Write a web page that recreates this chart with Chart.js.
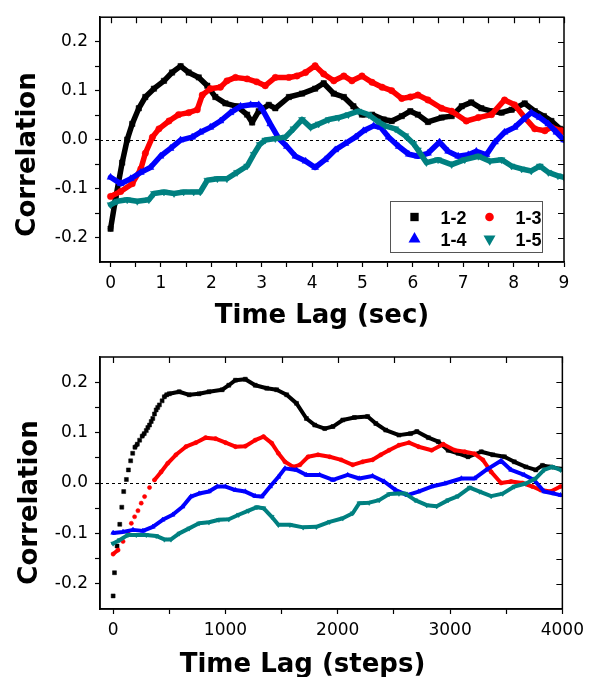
<!DOCTYPE html>
<html><head><meta charset="utf-8">
<script src="https://cdn.jsdelivr.net/npm/chart.js@4.4.1/dist/chart.umd.min.js"></script>
<style>
html,body{margin:0;padding:0;background:#fff;width:590px;height:677px;overflow:hidden}
#w1{position:absolute;left:0;top:0;width:590px;height:338px}
#w2{position:absolute;left:0;top:338px;width:590px;height:339px}
</style></head><body>
<div id="w1"><canvas id="c1" width="590" height="338"></canvas></div>
<div id="w2"><canvas id="c2" width="590" height="339"></canvas></div>
<script>
// ---- series identity ----
const seriesNames = ['1-2', '1-3', '1-4', '1-5'];
const seriesColors = ['#000000', '#ff0000', '#0000ff', '#008080'];
const seriesShapes = ['rect', 'circle', 'triangle', 'triangle'];
const seriesRotations = [0, 0, 0, 180];

// ---- top panel: time lag in seconds ----
const secX_12 = [0, 0.1, 0.23, 0.33, 0.43, 0.56, 0.69, 0.86, 1.06, 1.22, 1.39, 1.55, 1.75, 1.92, 2.08, 2.28, 2.51, 2.71, 2.81, 2.94, 3.14, 3.27, 3.54, 3.8, 4.06, 4.23, 4.43, 4.63, 4.82, 4.99, 5.19, 5.42, 5.58, 5.78, 5.95, 6.1, 6.3, 6.57, 6.77, 6.97, 7.16, 7.36, 7.56, 7.76, 7.96, 8.22, 8.42, 8.6, 8.75, 8.92, 9.0];
const secY_12 = [-0.182, -0.12, -0.047, 0.0, 0.032, 0.064, 0.087, 0.104, 0.12, 0.137, 0.15, 0.137, 0.127, 0.11, 0.087, 0.074, 0.068, 0.051, 0.035, 0.058, 0.071, 0.064, 0.087, 0.094, 0.104, 0.115, 0.094, 0.087, 0.068, 0.051, 0.051, 0.041, 0.038, 0.048, 0.058, 0.051, 0.036, 0.045, 0.048, 0.068, 0.076, 0.064, 0.058, 0.055, 0.061, 0.074, 0.058, 0.048, 0.038, 0.022, 0.02];

const secX_13 = [0, 0.2, 0.43, 0.6, 0.69, 0.83, 0.96, 1.16, 1.35, 1.55, 1.72, 1.82, 1.98, 2.18, 2.31, 2.48, 2.71, 2.9, 3.07, 3.27, 3.54, 3.7, 3.87, 4.06, 4.23, 4.43, 4.63, 4.79, 4.99, 5.19, 5.39, 5.58, 5.78, 5.95, 6.1, 6.3, 6.57, 6.77, 7.06, 7.3, 7.56, 7.82, 8.02, 8.22, 8.42, 8.62, 8.75, 8.95, 9.0];
const secY_13 = [-0.116, -0.106, -0.09, -0.06, -0.028, 0.005, 0.022, 0.038, 0.051, 0.055, 0.061, 0.091, 0.104, 0.107, 0.12, 0.127, 0.124, 0.118, 0.11, 0.127, 0.127, 0.13, 0.137, 0.151, 0.134, 0.12, 0.13, 0.12, 0.13, 0.117, 0.107, 0.1, 0.084, 0.087, 0.091, 0.081, 0.064, 0.058, 0.038, 0.045, 0.051, 0.081, 0.071, 0.045, 0.022, 0.018, 0.025, 0.018, 0.016];

const secX_14 = [0, 0.2, 0.4, 0.6, 0.79, 0.99, 1.19, 1.39, 1.62, 1.78, 1.98, 2.18, 2.38, 2.58, 2.78, 2.94, 3.0, 3.17, 3.34, 3.5, 3.67, 3.87, 4.06, 4.26, 4.46, 4.66, 4.86, 5.02, 5.22, 5.36, 5.52, 5.72, 5.92, 6.1, 6.3, 6.53, 6.7, 6.9, 7.1, 7.26, 7.46, 7.63, 7.82, 8.02, 8.19, 8.35, 8.52, 8.69, 8.85, 9.0];
const secY_14 = [-0.077, -0.09, -0.08, -0.067, -0.057, -0.034, -0.018, -0.001, 0.005, 0.015, 0.025, 0.038, 0.055, 0.068, 0.071, 0.071, 0.064, 0.032, 0.002, -0.014, -0.034, -0.044, -0.057, -0.041, -0.021, -0.008, 0.005, 0.018, 0.028, 0.025, 0.005, -0.014, -0.03, -0.034, -0.028, -0.005, -0.024, -0.034, -0.031, -0.024, -0.031, -0.005, 0.015, 0.025, 0.041, 0.055, 0.045, 0.032, 0.015, -0.001];

const secX_15 = [0, 0.13, 0.33, 0.53, 0.76, 0.86, 1.06, 1.26, 1.45, 1.65, 1.78, 1.92, 2.12, 2.31, 2.51, 2.71, 2.84, 2.96, 3.07, 3.27, 3.47, 3.63, 3.8, 3.97, 4.13, 4.33, 4.53, 4.72, 4.92, 5.12, 5.29, 5.45, 5.65, 5.85, 6.01, 6.1, 6.27, 6.5, 6.77, 7.03, 7.3, 7.53, 7.76, 7.96, 8.16, 8.35, 8.52, 8.69, 8.88, 9.0];
const secY_15 = [-0.133, -0.126, -0.123, -0.126, -0.123, -0.11, -0.107, -0.11, -0.107, -0.107, -0.107, -0.083, -0.08, -0.08, -0.067, -0.054, -0.03, -0.01, -0.001, 0.002, 0.005, 0.022, 0.041, 0.025, 0.032, 0.041, 0.045, 0.051, 0.058, 0.051, 0.038, 0.028, 0.022, 0.008, -0.008, -0.021, -0.047, -0.041, -0.051, -0.041, -0.034, -0.044, -0.041, -0.054, -0.06, -0.064, -0.054, -0.067, -0.074, -0.077];

// ---- bottom panel: time lag in steps ----
const stepX_12 = [0, 12, 35, 59, 77, 94, 118, 136, 156, 174, 194, 215, 236, 259, 277, 295, 309, 324, 339, 353, 368, 383, 397, 412, 436, 456, 477, 500, 588, 677, 765, 853, 971, 1030, 1089, 1177, 1265, 1368, 1456, 1545, 1633, 1721, 1795, 1884, 1957, 2045, 2148, 2266, 2339, 2427, 2545, 2648, 2704, 2807, 2895, 2983, 3071, 3160, 3278, 3380, 3484, 3572, 3675, 3763, 3822, 3896, 3984];
const stepY_12 = [-0.224, -0.178, -0.125, -0.082, -0.048, -0.017, 0.007, 0.026, 0.044, 0.059, 0.071, 0.077, 0.085, 0.093, 0.098, 0.104, 0.11, 0.115, 0.122, 0.128, 0.137, 0.145, 0.15, 0.155, 0.163, 0.171, 0.175, 0.177, 0.181, 0.175, 0.177, 0.181, 0.185, 0.194, 0.204, 0.206, 0.194, 0.188, 0.185, 0.175, 0.158, 0.128, 0.115, 0.108, 0.112, 0.125, 0.13, 0.132, 0.118, 0.105, 0.095, 0.098, 0.102, 0.09, 0.082, 0.065, 0.059, 0.052, 0.062, 0.056, 0.052, 0.042, 0.032, 0.026, 0.035, 0.032, 0.028];

const stepX_13 = [0, 44, 88, 132, 162, 191, 221, 250, 280, 324, 368, 427, 486, 559, 648, 736, 824, 912, 1001, 1089, 1177, 1265, 1339, 1412, 1471, 1530, 1604, 1663, 1736, 1824, 1928, 2030, 2133, 2221, 2310, 2383, 2457, 2545, 2634, 2719, 2836, 2939, 3042, 3131, 3219, 3292, 3366, 3454, 3543, 3645, 3733, 3807, 3896, 3984];
const stepY_13 = [-0.141, -0.133, -0.116, -0.097, -0.08, -0.067, -0.055, -0.04, -0.027, -0.009, 0.006, 0.022, 0.039, 0.056, 0.072, 0.08, 0.09, 0.088, 0.08, 0.072, 0.073, 0.085, 0.092, 0.079, 0.059, 0.042, 0.032, 0.036, 0.052, 0.056, 0.052, 0.046, 0.036, 0.042, 0.046, 0.056, 0.065, 0.075, 0.08, 0.072, 0.065, 0.077, 0.065, 0.062, 0.058, 0.046, 0.022, 0.0, 0.003, 0.0, -0.007, -0.014, -0.017, -0.007];

const stepX_14 = [0, 88, 177, 265, 353, 441, 530, 618, 692, 765, 853, 927, 1001, 1089, 1177, 1265, 1324, 1398, 1471, 1530, 1633, 1721, 1839, 1957, 2089, 2192, 2310, 2413, 2516, 2619, 2719, 2836, 2954, 3101, 3219, 3322, 3454, 3543, 3660, 3748, 3837, 3925, 3984];
const stepY_14 = [-0.099, -0.097, -0.093, -0.095, -0.087, -0.073, -0.063, -0.047, -0.027, -0.021, -0.017, -0.007, -0.007, -0.014, -0.017, -0.026, -0.027, -0.007, 0.012, 0.029, 0.026, 0.016, 0.016, 0.006, 0.016, 0.009, 0.014, 0.003, -0.014, -0.024, -0.017, -0.007, -0.001, 0.009, 0.009, 0.026, 0.044, 0.026, 0.016, 0.006, -0.017, -0.021, -0.024];

const stepX_15 = [0, 59, 132, 206, 295, 383, 456, 515, 589, 677, 765, 853, 942, 1030, 1118, 1206, 1280, 1339, 1412, 1471, 1574, 1692, 1809, 1928, 2045, 2133, 2192, 2280, 2369, 2457, 2545, 2601, 2689, 2792, 2881, 2983, 3071, 3175, 3263, 3366, 3469, 3572, 3675, 3763, 3837, 3910, 3984];
const stepY_15 = [-0.12, -0.113, -0.103, -0.103, -0.103, -0.105, -0.112, -0.112, -0.1, -0.09, -0.08, -0.078, -0.073, -0.072, -0.063, -0.055, -0.048, -0.05, -0.067, -0.083, -0.083, -0.088, -0.087, -0.077, -0.07, -0.06, -0.04, -0.039, -0.034, -0.022, -0.021, -0.021, -0.034, -0.044, -0.046, -0.034, -0.026, -0.009, -0.017, -0.026, -0.021, -0.007, -0.001, 0.009, 0.026, 0.032, 0.026];

// ---- ticks ----
const secTickValues = [0, 0.5, 1, 1.5, 2, 2.5, 3, 3.5, 4, 4.5, 5, 5.5, 6, 6.5, 7, 7.5, 8, 8.5, 9];
const secTickLabels = ['0', '', '1', '', '2', '', '3', '', '4', '', '5', '', '6', '', '7', '', '8', '', '9'];
const stepTickValues = [0, 500, 1000, 1500, 2000, 2500, 3000, 3500, 4000];
const stepTickLabels = ['0', '', '1000', '', '2000', '', '3000', '', '4000'];
const corrTickValues = [-0.2, -0.15, -0.1, -0.05, 0, 0.05, 0.1, 0.15, 0.2];
const corrTickLabels = ['-0.2', '', '-0.1', '', '0.0', '', '0.1', '', '0.2'];

const yTitle = 'Correlation';
const secTitle = 'Time Lag (sec)';
const stepTitle = 'Time Lag (steps)';

// ---------------- drawing ----------------
const toPoints = (xs, ys) => xs.map((x, i) => ({ x: x, y: ys[i] }));

const legendRadius = { rect: 5.9, circle: 4.3, triangle: 6.9 };

const panelPlugin = {
  id: 'panel',
  beforeDatasetsDraw(chart, args, o) {
    const ctx = chart.ctx, a = chart.chartArea;
    const y0 = chart.scales.y.getPixelForValue(0);
    ctx.save();
    ctx.strokeStyle = '#000';
    ctx.lineWidth = 1;
    ctx.setLineDash([3, 3]);
    ctx.beginPath();
    ctx.moveTo(a.left, Math.round(y0) + 0.5);
    ctx.lineTo(a.right, Math.round(y0) + 0.5);
    ctx.stroke();
    ctx.restore();
  },
  afterDatasetsDraw(chart, args, o) {
    const ctx = chart.ctx, a = chart.chartArea;
    ctx.save();
    ctx.strokeStyle = '#000';
    ctx.lineWidth = 1.5;
    ctx.strokeRect(a.left, a.top, a.right - a.left, a.bottom - a.top);
    ctx.lineWidth = 1.2;
    ctx.beginPath();
    chart.scales.x.ticks.forEach(t => {
      const px = Math.round(chart.scales.x.getPixelForValue(t.value)) + 0.5;
      ctx.moveTo(px, a.top); ctx.lineTo(px, a.top + 6);
    });
    chart.scales.y.ticks.forEach(t => {
      const py = Math.round(chart.scales.y.getPixelForValue(t.value)) + 0.5;
      ctx.moveTo(a.right, py); ctx.lineTo(a.right - 6, py);
    });
    ctx.stroke();
    ctx.restore();
  },
  afterDraw(chart, args, o) {
    const ctx = chart.ctx, a = chart.chartArea;
    ctx.save();
    ctx.fillStyle = '#000';
    ctx.font = 'bold 26px "DejaVu Sans"';
    ctx.textAlign = 'center';
    ctx.textBaseline = 'alphabetic';
    ctx.fillText(o.xTitle, o.xTitleX, o.xTitleY);
    ctx.translate(o.yTitleX, o.yTitleY);
    ctx.rotate(-Math.PI / 2);
    ctx.fillText(o.yTitle, 0, 0);
    ctx.restore();

    if (o.legend) {
      const w = 152, h = 51;
      const bx = a.right - 22.5 - w, by = a.bottom - 10 - h;
      ctx.save();
      ctx.fillStyle = '#fff';
      ctx.fillRect(bx, by, w, h);
      ctx.strokeStyle = '#555';
      ctx.lineWidth = 1;
      ctx.strokeRect(Math.round(bx) + 0.5, Math.round(by) + 0.5, w, h);
      chart.data.datasets.forEach((ds, i) => {
        const col = i % 2, row = Math.floor(i / 2);
        const mx = bx + 25 + col * 75, my = by + 16 + row * 22;
        ctx.fillStyle = ds.borderColor;
        ctx.strokeStyle = ds.borderColor;
        Chart.helpers.drawPoint(ctx, {
          pointStyle: ds.pointStyle, rotation: ds.pointRotation,
          radius: legendRadius[ds.pointStyle], borderWidth: 0
        }, mx, my);
        ctx.fillStyle = '#000';
        ctx.font = 'bold 18px "Liberation Sans"';
        ctx.textAlign = 'left';
        ctx.textBaseline = 'alphabetic';
        ctx.fillText(ds.label, mx + 26, my + 6.5);
      });
      ctx.restore();
    }
  }
};

const sparseSegment = ctx => {
  const dx = Math.abs(ctx.p1.x - ctx.p0.x), dy = Math.abs(ctx.p1.y - ctx.p0.y);
  return (dx < 6 && dy > 1.3 * dx) ? 'rgba(0,0,0,0)' : undefined;
};

function makePanel(id, p) {
  const datasets = p.series.map((s, i) => ({
    label: seriesNames[i],
    data: toPoints(s[0], s[1]),
    showLine: true,
    borderColor: seriesColors[i],
    backgroundColor: seriesColors[i],
    pointBackgroundColor: seriesColors[i],
    pointBorderColor: seriesColors[i],
    pointBorderWidth: 0.5,
    borderWidth: p.lineWidth,
    pointStyle: seriesShapes[i],
    pointRotation: seriesRotations[i],
    pointRadius: p.radius[seriesShapes[i]],
    pointHoverRadius: p.radius[seriesShapes[i]],
    borderJoinStyle: 'round',
    borderCapStyle: 'round',
    order: 4 - i,
    segment: p.sparse ? { borderColor: sparseSegment } : undefined
  }));
  const tickFont = { family: 'DejaVu Sans', size: 17 };
  return new Chart(document.getElementById(id), {
    type: 'scatter',
    data: { datasets: datasets },
    plugins: [panelPlugin],
    options: {
      responsive: false,
      animation: false,
      events: [],
      layout: { padding: p.padding },
      plugins: {
        legend: { display: false },
        tooltip: { enabled: false },
        panel: p.titles
      },
      scales: {
        x: {
          type: 'linear', min: p.xMin, max: p.xMax,
          afterBuildTicks: sc => { sc.ticks = p.xTicks.map(v => ({ value: v })); },
          afterFit: sc => { sc.height = p.xAxisHeight; },
          ticks: {
            autoSkip: false, maxRotation: 0, padding: 6, color: '#000', font: tickFont,
            callback: (v, i) => p.xLabels[i]
          },
          grid: { display: true, drawOnChartArea: false, drawTicks: true, tickLength: 5, tickColor: '#000', tickWidth: 1.2 },
          border: { display: true, color: '#000', width: 1.5 }
        },
        y: {
          type: 'linear', min: -0.25, max: 0.25,
          afterBuildTicks: sc => { sc.ticks = corrTickValues.map(v => ({ value: v })); },
          afterFit: sc => { sc.width = 100; },
          ticks: {
            autoSkip: false, padding: 7, color: '#000', font: tickFont,
            callback: (v, i) => corrTickLabels[i]
          },
          grid: { display: true, drawOnChartArea: false, drawTicks: true, tickLength: 5, tickColor: '#000', tickWidth: 1.2 },
          border: { display: true, color: '#000', width: 1.5 }
        }
      }
    }
  });
}

makePanel('c1', {
  series: [[secX_12, secY_12], [secX_13, secY_13], [secX_14, secY_14], [secX_15, secY_15]],
  xMin: -0.21, xMax: 9,
  xTicks: secTickValues, xLabels: secTickLabels,
  xAxisHeight: 76,
  padding: { top: 9, right: 26, left: 0, bottom: 0 },
  lineWidth: 5.5,
  radius: { rect: 3.8, circle: 3.2, triangle: 4.0 },
  sparse: false,
  titles: { xTitle: secTitle, xTitleX: 322, xTitleY: 322.7, yTitle: yTitle, yTitleX: 34.5, yTitleY: 154.5, legend: true }
});

makePanel('c2', {
  series: [[stepX_12, stepY_12], [stepX_13, stepY_13], [stepX_14, stepY_14], [stepX_15, stepY_15]],
  xMin: -117, xMax: 4000,
  xTicks: stepTickValues, xLabels: stepTickLabels,
  xAxisHeight: 68,
  padding: { top: 19, right: 25, left: 0, bottom: 0 },
  lineWidth: 4,
  radius: { rect: 2.8, circle: 2.1, triangle: 2.8 },
  sparse: true,
  titles: { xTitle: stepTitle, xTitleX: 302.5, xTitleY: 334.3, yTitle: yTitle, yTitleX: 36.5, yTitleY: 164.5, legend: false }
});
</script>
</body></html>
